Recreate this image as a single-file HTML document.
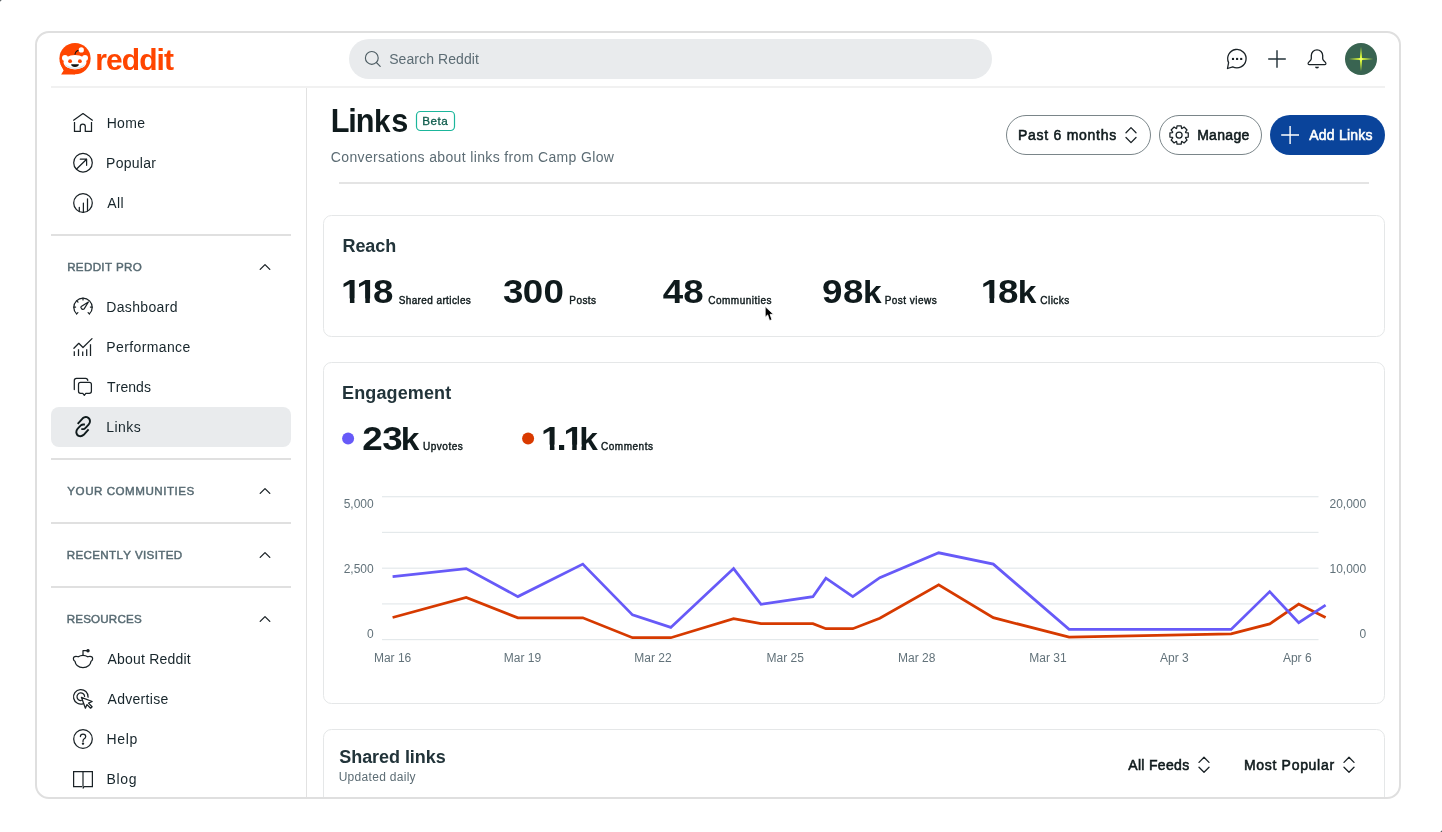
<!DOCTYPE html>
<html><head><meta charset="utf-8"><title>Links - Reddit Pro</title>
<style>
html,body{margin:0;padding:0;background:#fff;}
body{width:1442px;height:832px;overflow:hidden;}
svg{display:block;font-family:'Liberation Sans', Arial, sans-serif;will-change:transform;font-kerning:none;}
</style></head><body>
<svg width="1442" height="832" viewBox="0 0 1442 832">
<rect x="0" y="0" width="1442" height="832" fill="#ffffff"/>
<defs><clipPath id="fr"><rect x="36" y="32" width="1364" height="766" rx="13"/></clipPath></defs>
<g clip-path="url(#fr)">
<rect x="51" y="86" width="1334" height="2" fill="#f1f1f1"/>
<rect x="306" y="88" width="1" height="720" fill="#e2e2e2"/>
<g>
<circle cx="75" cy="58.6" r="15.6" fill="#ff4500"/>
<path d="M60.5 64 L63.6 70.4 L61.1 74.4 L75 74.4 L75 66 Z" fill="#ff4500"/>
<g fill="#ffffff">
<ellipse cx="75" cy="62.2" rx="11.4" ry="7.3"/>
<circle cx="65" cy="58" r="3"/><circle cx="85" cy="58" r="3"/>
</g>
<path d="M65 64 Q75 71.5 85 64 Q84 68.8 75 69 Q66 68.8 65 64 Z" fill="#d9e4ea"/>
<circle cx="70.1" cy="61.2" r="1.9" fill="#ff4500"/><circle cx="79.9" cy="61.2" r="1.9" fill="#ff4500"/>
<path d="M71.1 64.3 H78.9 Q78.6 66.9 75 66.9 Q71.4 66.9 71.1 64.3 Z" fill="#111"/>
<path d="M74.9 54.6 Q75.6 50.8 78.8 50.3" fill="none" stroke="#111" stroke-width="1.1"/>
<circle cx="81.3" cy="49.9" r="2.6" fill="#ffffff"/>
</g>
<text x="95.22" y="69.50" fill="#ff4500" style="font-size:30px;font-weight:700;letter-spacing:-0.918px;">reddit</text>
<rect x="349" y="39" width="643" height="40" rx="20" fill="#e9ebed"/>
<circle cx="371.8" cy="57.9" r="6.4" fill="none" stroke="#4e5d63" stroke-width="1.15"/>
<path d="M376.4 62.5 L380.2 66.3" stroke="#4e5d63" stroke-width="1.15" stroke-linecap="round"/>
<text x="389.16" y="64.00" fill="#5c6c74" style="font-size:14px;font-weight:400;letter-spacing:0.085px;">Search Reddit</text>
<path d="M1228.6 62.6 L1227.5 68.5 L1232.7 66.8 A9.2 9.2 0 1 0 1228.6 62.6 Z" fill="none" stroke="#1a2226" stroke-width="1.3" stroke-linejoin="round"/>
<rect x="1231.95" y="57.9" width="2.1" height="2.1" fill="#1a2226"/>
<rect x="1236.05" y="57.9" width="2.1" height="2.1" fill="#1a2226"/>
<rect x="1240.15" y="57.9" width="2.1" height="2.1" fill="#1a2226"/>
<path d="M1268.2 59 H1285.8 M1277 50.2 V67.8" stroke="#24333a" stroke-width="1.45"/>
<g transform="translate(1307,49)"><path d="M4.3 9.6 V6.6 A5.7 5.7 0 0 1 15.7 6.6 V9.6 Q15.7 10.6 16.6 11.5 L18.2 13.1 Q19.2 14.1 18.8 15 Q18.5 15.6 17.6 15.6 H2.4 Q1.5 15.6 1.2 15 Q0.8 14.1 1.8 13.1 L3.4 11.5 Q4.3 10.6 4.3 9.6 Z" fill="none" stroke="#1a2226" stroke-width="1.3"/><path d="M8 17.8 H12 Q12 19.6 10 19.6 Q8 19.6 8 17.8 Z" fill="#1a2226"/></g>
<circle cx="1361" cy="59" r="16" fill="#396451"/>
<path d="M1361 46.8 L1362.1 57.9 L1373.3 59 L1362.1 60.1 L1361 71.2 L1359.9 60.1 L1348.7 59 L1359.9 57.9 Z" fill="#d7f53a"/>
<circle cx="1361" cy="59" r="1.6" fill="#efff70"/>
<text x="106.65" y="128.00" fill="#17252b" style="font-size:14px;font-weight:400;letter-spacing:0.309px;">Home</text>
<text x="106.05" y="168.00" fill="#17252b" style="font-size:14px;font-weight:400;letter-spacing:0.271px;">Popular</text>
<text x="107.17" y="208.00" fill="#17252b" style="font-size:14px;font-weight:400;letter-spacing:0.403px;">All</text>
<g transform="translate(73,112)" fill="none" stroke="#1a2226" stroke-width="1.25" stroke-linecap="round" stroke-linejoin="round"><path d="M0.6 8.2 L10 1.6 L19.4 8.2"/><path d="M1.5 10 V19.3 H7.3 V14.6 A2.5 2.5 0 0 1 12.3 14.6 V19.3 H18.5 V10" stroke-linecap="butt" stroke-linejoin="miter"/></g>
<g transform="translate(73,152.7)" fill="none" stroke="#1a2226" stroke-width="1.25" stroke-linecap="round" stroke-linejoin="round"><circle cx="10" cy="10" r="9.3"/><path d="M3.6 16.3 L13.6 6.5 M7.3 6.5 H13.6 V12.6"/></g>
<g transform="translate(73,193)" fill="none" stroke="#1a2226" stroke-width="1.25" stroke-linecap="round" stroke-linejoin="round"><circle cx="10" cy="10" r="9.3"/><path d="M6.3 14.3 V18.5 M10.4 10 V19.3 M14.5 5.8 V17.9"/></g>
<rect x="51" y="234" width="240" height="2" fill="#e0e0e0"/>
<text x="67.17" y="271.00" fill="#576a72" style="font-size:11.6px;font-weight:400;letter-spacing:0.336px;" stroke="#576a72" stroke-width="0.45">REDDIT PRO</text>
<path d="M260.2 269.4 L265 264.6 L269.8 269.4" fill="none" stroke="#1a2226" stroke-width="1.3" stroke-linecap="round" stroke-linejoin="round"/>
<rect x="51" y="407" width="240" height="40" rx="8" fill="#e9ebed"/>
<text x="106.25" y="312.00" fill="#17252b" style="font-size:14px;font-weight:400;letter-spacing:0.345px;">Dashboard</text>
<text x="106.25" y="352.00" fill="#17252b" style="font-size:14px;font-weight:400;letter-spacing:0.383px;">Performance</text>
<text x="107.09" y="392.00" fill="#17252b" style="font-size:14px;font-weight:400;letter-spacing:0.050px;">Trends</text>
<text x="106.25" y="432.00" fill="#17252b" style="font-size:14px;font-weight:400;letter-spacing:0.443px;">Links</text>
<g transform="translate(73,297)" fill="none" stroke="#1a2226" stroke-width="1.25" stroke-linecap="round" stroke-linejoin="round"><path d="M3.6 16.9 A9.2 9.2 0 1 1 16.4 16.9"/><path d="M3.6 16.9 L4.9 15.6 M16.4 16.9 L15.1 15.6 M10 1.2 V2.9 M3.8 3.9 L5 5.1 M0.9 10.1 H2.6 M17.4 10.1 H19.1"/><path d="M8.6 11.6 A1.6 1.6 0 0 1 8.2 9.4 L15.4 5 L11 12.1 A1.6 1.6 0 0 1 8.6 11.6 Z" stroke-width="1.2"/></g>
<g transform="translate(73,337)" fill="none" stroke="#1a2226" stroke-width="1.25" stroke-linecap="round" stroke-linejoin="round"><path d="M0.9 11.3 L5.8 6.3 L10 10.5 L19 1.6"/><path d="M1.3 14.3 V18.9 M5.5 12.2 V18.9 M9.7 14.6 V18.9 M13.7 12.2 V18.9 M17.5 7.2 V18.9" stroke-linecap="butt"/></g>
<g transform="translate(73,377)" fill="none" stroke="#1a2226" stroke-width="1.25" stroke-linecap="round" stroke-linejoin="round"><path d="M1.3 12.6 V3.5 Q1.3 1.3 3.5 1.3 H12.6 Q14.6 1.3 14.8 3.4"/><path d="M7.6 5.3 H16.3 Q18.4 5.3 18.4 7.4 V14.3 Q18.4 16.4 16.3 16.4 H12.8 L11.3 18.3 L9.8 16.4 H7.6 Q5.5 16.4 5.5 14.3 V7.4 Q5.5 5.3 7.6 5.3 Z"/></g>
<g fill="none" stroke="#0f1a1c" stroke-width="1.9" stroke-linecap="butt" stroke-linejoin="round"><path d="M77.7 423.8 L82.7 418.3 Q84.6 416.6 87 417.2 Q89.8 418.2 90 421 Q90.1 423 88.6 424.6 L85.3 428.2 Q84.5 429.1 83.3 429.1 L81.3 429.1"/><path d="M88.6 429.3 L83.7 434.8 Q81.8 436.6 79.4 436.1 Q76.6 435.2 76.3 432.3 Q76.2 430.3 77.7 428.6 L81.1 425.2 Q81.9 424.5 83.1 424.5 L84.9 424.5"/></g>
<rect x="51" y="458" width="240" height="2" fill="#e0e0e0"/>
<text x="67.37" y="495.00" fill="#576a72" style="font-size:11.6px;font-weight:400;letter-spacing:0.521px;" stroke="#576a72" stroke-width="0.45">YOUR COMMUNITIES</text>
<path d="M260.2 493.4 L265 488.6 L269.8 493.4" fill="none" stroke="#1a2226" stroke-width="1.3" stroke-linecap="round" stroke-linejoin="round"/>
<rect x="51" y="522" width="240" height="2" fill="#e0e0e0"/>
<text x="66.67" y="559.00" fill="#576a72" style="font-size:11.6px;font-weight:400;letter-spacing:0.356px;" stroke="#576a72" stroke-width="0.45">RECENTLY VISITED</text>
<path d="M260.2 557.4 L265 552.6 L269.8 557.4" fill="none" stroke="#1a2226" stroke-width="1.3" stroke-linecap="round" stroke-linejoin="round"/>
<rect x="51" y="586" width="240" height="2" fill="#e0e0e0"/>
<text x="66.67" y="623.00" fill="#576a72" style="font-size:11.6px;font-weight:400;letter-spacing:0.194px;" stroke="#576a72" stroke-width="0.45">RESOURCES</text>
<path d="M260.2 621.4 L265 616.6 L269.8 621.4" fill="none" stroke="#1a2226" stroke-width="1.3" stroke-linecap="round" stroke-linejoin="round"/>
<text x="107.57" y="664.00" fill="#17252b" style="font-size:14px;font-weight:400;letter-spacing:0.199px;">About Reddit</text>
<text x="107.57" y="704.00" fill="#17252b" style="font-size:14px;font-weight:400;letter-spacing:0.286px;">Advertise</text>
<text x="106.45" y="744.00" fill="#17252b" style="font-size:14px;font-weight:400;letter-spacing:0.648px;">Help</text>
<text x="106.45" y="784.00" fill="#17252b" style="font-size:14px;font-weight:400;letter-spacing:0.677px;">Blog</text>
<g transform="translate(73,649)" fill="none" stroke="#1a2226" stroke-width="1.25" stroke-linecap="round" stroke-linejoin="round"><path d="M3 7.4 Q0.3 7.4 0.4 10 Q0.6 11.6 1.9 12.2 Q3 18.5 10 18.5 Q17 18.5 18.1 12.2 Q19.4 11.6 19.6 10 Q19.7 7.4 17 7.4 Q15.5 7.4 14.7 7.8 Q12.6 6.3 10 6.3 Q7.4 6.3 5.3 7.8 Q4.5 7.4 3 7.4 Z"/><path d="M10 6.3 V1.7 H13.6"/><circle cx="15" cy="1.7" r="1.1" fill="#1a2226"/></g>
<g transform="translate(73,689)" fill="none" stroke="#1a2226" stroke-width="1.25" stroke-linecap="round" stroke-linejoin="round"><path d="M10.5 14.6 A7.3 7.3 0 1 1 15.1 8.2"/><path d="M8.3 11.5 A3.8 3.8 0 1 1 11.6 7.4"/><path d="M8.4 8.3 L12.4 19.2 L14 15.6 L17.6 19.2 L19.1 17.7 L15.5 14.1 L19.2 12.5 Z"/></g>
<g transform="translate(73,729)" fill="none" stroke="#1a2226" stroke-width="1.25" stroke-linecap="round" stroke-linejoin="round"><circle cx="10" cy="10" r="9.3"/><path d="M7.4 7.6 Q7.4 5 10 5 Q12.7 5 12.7 7.4 Q12.7 8.9 11.2 9.7 Q10 10.4 10 11.9 V12.4"/><circle cx="10" cy="14.6" r="0.6" fill="#1a2226"/></g>
<g transform="translate(73,769)" fill="none" stroke="#1a2226" stroke-width="1.25" stroke-linecap="round" stroke-linejoin="round"><path d="M9.4 17.6 H0.6 V2.5 H19.4 V17.6 H10.9 L9.9 19.5" stroke-linejoin="miter" stroke-linecap="butt"/><path d="M10 2.5 V16.9" stroke-width="1.2"/></g>
<text transform="translate(0 131.80) scale(0.9300 1)" y="0" fill="#0f1a1c" style="font-size:33px;font-weight:700;"><tspan x="355.53">L</tspan><tspan x="374.58">i</tspan><tspan x="382.45">n</tspan><tspan x="402.17" style="font-size:32px">k</tspan><tspan x="420.78">s</tspan></text>
<rect x="416.5" y="111.5" width="38" height="19" rx="4" fill="none" stroke="#1bb69b" stroke-width="1.2"/>
<text x="422.19" y="125.00" fill="#0d5b4b" style="font-size:11.7px;font-weight:400;letter-spacing:0.530px;" stroke="#0d5b4b" stroke-width="0.3">Beta</text>
<text x="330.79" y="162.00" fill="#5c6c74" style="font-size:14px;font-weight:400;letter-spacing:0.358px;">Conversations about links from Camp Glow</text>
<rect x="339" y="182" width="1030" height="2" fill="#e4e4e4"/>
<rect x="1006.5" y="115.5" width="144" height="39" rx="19.5" fill="#fff" stroke="#7a8589" stroke-width="1"/>
<text x="1018.03" y="140.00" fill="#0f1a1c" style="font-size:14px;font-weight:400;letter-spacing:0.726px;" stroke="#0f1a1c" stroke-width="0.55">Past 6 months</text>
<path d="M1126 132.7 L1131 127.6 L1136 132.7 M1126 137.5 L1131 142.6 L1136 137.5" fill="none" stroke="#1a2226" stroke-width="1.3" stroke-linecap="round" stroke-linejoin="round"/>
<rect x="1159.5" y="115.5" width="102" height="39" rx="19.5" fill="#fff" stroke="#7a8589" stroke-width="1"/>
<path d="M1176.63 128.45 L1177.02 125.83 L1181.18 125.83 L1181.57 128.45 L1181.99 128.62 L1184.11 127.05 L1187.05 129.99 L1185.48 132.11 L1185.65 132.53 L1188.27 132.92 L1188.27 137.08 L1185.65 137.47 L1185.48 137.89 L1187.05 140.01 L1184.11 142.95 L1181.99 141.38 L1181.57 141.55 L1181.18 144.17 L1177.02 144.17 L1176.63 141.55 L1176.21 141.38 L1174.09 142.95 L1171.15 140.01 L1172.72 137.89 L1172.55 137.47 L1169.93 137.08 L1169.93 132.92 L1172.55 132.53 L1172.72 132.11 L1171.15 129.99 L1174.09 127.05 L1176.21 128.62 Z" fill="none" stroke="#1a2226" stroke-width="1.25" stroke-linejoin="round"/>
<circle cx="1179.1" cy="135" r="3" fill="none" stroke="#1a2226" stroke-width="1.25"/>
<text x="1197.13" y="140.00" fill="#0f1a1c" style="font-size:14px;font-weight:400;letter-spacing:0.326px;" stroke="#0f1a1c" stroke-width="0.55">Manage</text>
<rect x="1270" y="115" width="115" height="40" rx="20" fill="#0a449b"/>
<path d="M1281.2 135 H1299 M1290.1 126 V144" stroke="#ffffff" stroke-width="1.4"/>
<text x="1309.25" y="140.00" fill="#ffffff" style="font-size:14px;font-weight:400;letter-spacing:0.213px;" stroke="#ffffff" stroke-width="0.55">Add Links</text>
<rect x="323.5" y="215.5" width="1061" height="121" rx="8" fill="#fff" stroke="#e5e7e8" stroke-width="1"/>
<text x="342.50" y="252.00" fill="#22343a" style="font-size:18px;font-weight:700;letter-spacing:-0.077px;">Reach</text>
<mask id="nm1" maskUnits="userSpaceOnUse" x="0" y="0" width="1442" height="832"><rect x="0" y="0" width="1442" height="832" fill="#fff"/><rect x="342.70" y="298.42" width="7.21" height="7.98" fill="#000"/><rect x="354.45" y="298.42" width="6.72" height="7.98" fill="#000"/><rect x="358.10" y="298.42" width="7.21" height="7.98" fill="#000"/><rect x="369.85" y="298.42" width="6.72" height="7.98" fill="#000"/><text transform="translate(0 303.40) scale(1.0800 1)" y="0" fill="#fff" style="font-size:34px;font-weight:700;"><tspan x="345.40">8</tspan></text></mask>
<g mask="url(#nm1)"><text transform="translate(0 303.40) scale(1.0800 1)" y="0" fill="#0f1a1c" style="font-size:34px;font-weight:700;"><tspan x="315.82">1</tspan><tspan x="330.08">1</tspan><tspan x="345.40">8</tspan></text></g>
<text x="398.65" y="304.00" fill="#0f1a1c" style="font-size:10px;font-weight:400;letter-spacing:0.394px;" stroke="#0f1a1c" stroke-width="0.4">Shared articles</text>
<text transform="translate(0 303.40) scale(1.0800 1)" y="0" fill="#0f1a1c" style="font-size:34px;font-weight:700;"><tspan x="465.70">3</tspan><tspan x="484.03">0</tspan><tspan x="503.28">0</tspan></text>
<text x="569.28" y="304.00" fill="#0f1a1c" style="font-size:10px;font-weight:400;letter-spacing:0.443px;" stroke="#0f1a1c" stroke-width="0.4">Posts</text>
<text transform="translate(0 303.40) scale(1.0800 1)" y="0" fill="#0f1a1c" style="font-size:34px;font-weight:700;"><tspan x="613.74">4</tspan><tspan x="632.62">8</tspan></text>
<text x="708.29" y="304.00" fill="#0f1a1c" style="font-size:10px;font-weight:400;letter-spacing:0.482px;" stroke="#0f1a1c" stroke-width="0.4">Communities</text>
<text transform="translate(0 303.40) scale(1.0800 1)" y="0" fill="#0f1a1c" style="font-size:34px;font-weight:700;"><tspan x="761.14">9</tspan><tspan x="780.59">8</tspan><tspan x="799.04" style="font-size:31px">k</tspan></text>
<text x="884.68" y="304.00" fill="#0f1a1c" style="font-size:10px;font-weight:400;letter-spacing:0.465px;" stroke="#0f1a1c" stroke-width="0.4">Post views</text>
<mask id="nm2" maskUnits="userSpaceOnUse" x="0" y="0" width="1442" height="832"><rect x="0" y="0" width="1442" height="832" fill="#fff"/><rect x="982.40" y="298.42" width="7.21" height="7.98" fill="#000"/><rect x="994.15" y="298.42" width="6.72" height="7.98" fill="#000"/><text transform="translate(0 303.40) scale(1.0800 1)" y="0" fill="#fff" style="font-size:34px;font-weight:700;"><tspan x="924.01">8</tspan><tspan x="942.28" style="font-size:31px">k</tspan></text></mask>
<g mask="url(#nm2)"><text transform="translate(0 303.40) scale(1.0800 1)" y="0" fill="#0f1a1c" style="font-size:34px;font-weight:700;"><tspan x="908.14">1</tspan><tspan x="924.01">8</tspan><tspan x="942.28" style="font-size:31px">k</tspan></text></g>
<text x="1040.19" y="304.00" fill="#0f1a1c" style="font-size:10px;font-weight:400;letter-spacing:0.501px;" stroke="#0f1a1c" stroke-width="0.4">Clicks</text>
<rect x="323.5" y="362.5" width="1061" height="341" rx="8" fill="#fff" stroke="#e5e7e8" stroke-width="1"/>
<text x="342.00" y="399.00" fill="#22343a" style="font-size:18px;font-weight:700;letter-spacing:0.134px;">Engagement</text>
<circle cx="348.1" cy="438.5" r="6" fill="#675af8"/>
<text transform="translate(0 449.60) scale(1.0800 1)" y="0" fill="#0f1a1c" style="font-size:34px;font-weight:700;"><tspan x="335.49">2</tspan><tspan x="353.85">3</tspan><tspan x="371.08" style="font-size:31px">k</tspan></text>
<text x="423.03" y="449.60" fill="#0f1a1c" style="font-size:10px;font-weight:400;letter-spacing:0.508px;" stroke="#0f1a1c" stroke-width="0.4">Upvotes</text>
<circle cx="528.1" cy="438.5" r="6" fill="#d93a00"/>
<mask id="nm3" maskUnits="userSpaceOnUse" x="0" y="0" width="1442" height="832"><rect x="0" y="0" width="1442" height="832" fill="#fff"/><rect x="542.70" y="444.62" width="7.21" height="7.98" fill="#000"/><rect x="554.45" y="444.62" width="6.72" height="7.98" fill="#000"/><rect x="565.00" y="444.62" width="7.21" height="7.98" fill="#000"/><rect x="576.75" y="444.62" width="6.72" height="7.98" fill="#000"/><text transform="translate(0 449.60) scale(1.0800 1)" y="0" fill="#fff" style="font-size:34px;font-weight:700;"><tspan x="515.19">.</tspan><tspan x="536.26" style="font-size:31px">k</tspan></text></mask>
<g mask="url(#nm3)"><text transform="translate(0 449.60) scale(1.0800 1)" y="0" fill="#0f1a1c" style="font-size:34px;font-weight:700;"><tspan x="501.01">1</tspan><tspan x="515.19">.</tspan><tspan x="521.66">1</tspan><tspan x="536.26" style="font-size:31px">k</tspan></text></g>
<text x="601.09" y="449.60" fill="#0f1a1c" style="font-size:10px;font-weight:400;letter-spacing:0.503px;" stroke="#0f1a1c" stroke-width="0.4">Comments</text>
<rect x="382" y="496.1" width="936.5" height="1.2" fill="#e4e9eb"/>
<rect x="382" y="531.8" width="936.5" height="1.2" fill="#e4e9eb"/>
<rect x="382" y="567.6" width="936.5" height="1.2" fill="#e4e9eb"/>
<rect x="382" y="603.3" width="936.5" height="1.2" fill="#e4e9eb"/>
<rect x="382" y="639.0" width="936.5" height="1.2" fill="#e4e9eb"/>
<text x="343.64" y="507.90" fill="#62727a" style="font-size:12px;font-weight:400;">5,000</text>
<text x="343.64" y="573.40" fill="#62727a" style="font-size:12px;font-weight:400;">2,500</text>
<text x="366.99" y="637.90" fill="#62727a" style="font-size:12px;font-weight:400;">0</text>
<text x="1329.47" y="507.90" fill="#62727a" style="font-size:12px;font-weight:400;">20,000</text>
<text x="1329.47" y="573.40" fill="#62727a" style="font-size:12px;font-weight:400;">10,000</text>
<text x="1359.49" y="637.90" fill="#62727a" style="font-size:12px;font-weight:400;">0</text>
<text x="373.90" y="661.70" fill="#62727a" style="font-size:12px;font-weight:400;">Mar 16</text>
<text x="503.72" y="661.70" fill="#62727a" style="font-size:12px;font-weight:400;">Mar 19</text>
<text x="634.24" y="661.70" fill="#62727a" style="font-size:12px;font-weight:400;">Mar 22</text>
<text x="766.59" y="661.70" fill="#62727a" style="font-size:12px;font-weight:400;">Mar 25</text>
<text x="898.09" y="661.70" fill="#62727a" style="font-size:12px;font-weight:400;">Mar 28</text>
<text x="1029.23" y="661.70" fill="#62727a" style="font-size:12px;font-weight:400;">Mar 31</text>
<text x="1160.11" y="661.70" fill="#62727a" style="font-size:12px;font-weight:400;">Apr 3</text>
<text x="1282.91" y="661.70" fill="#62727a" style="font-size:12px;font-weight:400;">Apr 6</text>
<polyline points="392.6,617.5 466.2,597.5 517.9,617.8 582.8,617.8 632.5,637.7 670.8,637.7 733.6,618.7 761.0,623.6 812.9,623.6 825.9,628.7 852.8,628.7 879.8,618.2 938.7,584.9 993.3,617.7 1069.1,637.2 1231.1,633.8 1269.7,623.9 1298.7,604.0 1325.6,617.5" fill="none" stroke="#d63a00" stroke-width="2.75" stroke-linejoin="miter"/>
<polyline points="392.6,576.7 466.2,568.6 517.9,596.6 582.8,564.1 632.5,614.9 670.8,627.4 733.6,568.6 761.0,604.3 812.9,596.7 825.9,578.2 852.8,596.6 879.8,577.7 938.7,552.8 993.3,564.1 1069.1,629.4 1231.1,629.4 1269.7,591.6 1298.7,622.6 1325.6,605.1" fill="none" stroke="#675af8" stroke-width="2.75" stroke-linejoin="miter"/>
<rect x="323.5" y="729.5" width="1061" height="120" rx="8" fill="#fff" stroke="#e5e7e8" stroke-width="1"/>
<text x="339.28" y="762.70" fill="#22343a" style="font-size:18px;font-weight:700;letter-spacing:-0.053px;">Shared links</text>
<text x="338.67" y="781.00" fill="#5c6c74" style="font-size:12px;font-weight:400;letter-spacing:0.297px;">Updated daily</text>
<text x="1128.25" y="769.70" fill="#0f1a1c" style="font-size:14px;font-weight:400;letter-spacing:0.316px;" stroke="#0f1a1c" stroke-width="0.55">All Feeds</text>
<path d="M1199 762.4 L1204 757.3 L1209 762.4 M1199 767.1999999999999 L1204 772.3 L1209 767.1999999999999" fill="none" stroke="#1a2226" stroke-width="1.3" stroke-linecap="round" stroke-linejoin="round"/>
<text x="1243.93" y="769.70" fill="#0f1a1c" style="font-size:14px;font-weight:400;letter-spacing:0.695px;" stroke="#0f1a1c" stroke-width="0.55">Most Popular</text>
<path d="M1344 762.4 L1349 757.3 L1354 762.4 M1344 767.1999999999999 L1349 772.3 L1354 767.1999999999999" fill="none" stroke="#1a2226" stroke-width="1.3" stroke-linecap="round" stroke-linejoin="round"/>
</g>
<rect x="36" y="32" width="1364" height="766" rx="13" fill="none" stroke="#dfdfdf" stroke-width="2"/>
<rect x="0" y="0" width="1" height="1" fill="#646a6d"/><rect x="1" y="0" width="1" height="1" fill="#d3d5d6"/><rect x="0" y="1" width="1" height="1" fill="#d3d5d6"/>
<rect x="1441" y="831" width="1" height="1" fill="#5a5f62"/><rect x="1440" y="831" width="1" height="1" fill="#d0d2d3"/><rect x="1441" y="830" width="1" height="1" fill="#d0d2d3"/>
<path d="M765.2 306.6 L765.2 317.2 L767.7 314.9 L769.5 320.6 L771.9 319.7 L770.1 314.3 L773.5 314.3 Z" fill="#000" stroke="#fff" stroke-width="0.8" stroke-linejoin="round"/>
</svg>
</body></html>
